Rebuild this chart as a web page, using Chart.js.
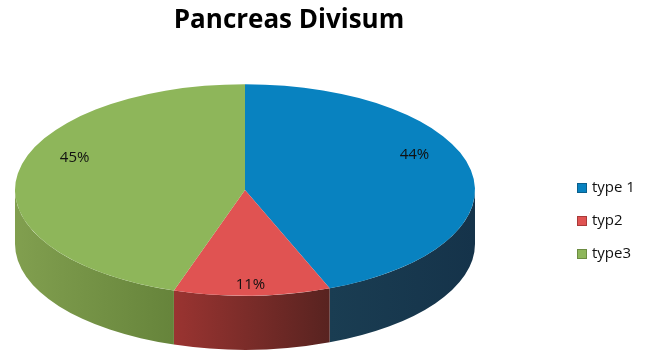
<!DOCTYPE html>
<html lang="en">
<head>
  <meta charset="utf-8">
  <title>Pancreas Divisum</title>
  <style>
    body { margin: 0; background: #fff; }
    #wrap { width: 649px; height: 356px; }
  </style>
</head>
<body>
  <div id="wrap"><canvas id="myChart"></canvas></div>

  <script src="https://cdn.jsdelivr.net/npm/chart.js@4.4.0/dist/chart.umd.min.js"></script>
  <script>
    var categories = ['type 1', 'typ2', 'type3'];
    var shares = [44, 11, 45];
    var topColors = ['#0882C0', '#E05352', '#8EB65A'];
    var edgeColors = ['#0B5F8C', '#A83A39', '#6C8C42'];
    // side wall shading, left -> right
    var sideColors = [['#1A3D52', '#15334A'], ['#9A3431', '#582320'], ['#819F4F', '#66843B']];

    var tilt = 0.46;    // vertical squash of the pie top
    var depth = 54;     // thickness of the pie

    var pie3d = {
      id: 'pie3d',
      beforeDatasetsDraw: function(chart) {
        var ctx = chart.ctx;
        var arcs = chart.getDatasetMeta(0).data;
        var cx = arcs[0].x, cy = arcs[0].y, R = arcs[0].outerRadius;
        var ry = R * tilt;

        // front rim of each slice
        arcs.forEach(function(arc, i) {
          var s = Math.max(arc.startAngle, 0);
          var e = Math.min(arc.endAngle, Math.PI);
          if (s >= e) return;
          var xl = cx + R * Math.cos(e), xr = cx + R * Math.cos(s);
          var g = ctx.createLinearGradient(xl, 0, xr, 0);
          g.addColorStop(0, sideColors[i][0]);
          g.addColorStop(1, sideColors[i][1]);
          ctx.save();
          ctx.beginPath();
          ctx.ellipse(cx, cy, R, ry, 0, s, e);
          ctx.ellipse(cx, cy + depth, R, ry, 0, e, s, true);
          ctx.closePath();
          ctx.fillStyle = g;
          ctx.fill();
          ctx.restore();
        });

        // squash the top face
        ctx.save();
        ctx.translate(0, cy);
        ctx.scale(1, tilt);
        ctx.translate(0, -cy);
      },
      afterDatasetsDraw: function(chart) {
        var ctx = chart.ctx;
        ctx.restore();

        // value labels, pushed a little to fake the perspective of the original
        var arcs = chart.getDatasetMeta(0).data;
        ctx.save();
        ctx.font = '15px "Open Sans"';
        ctx.fillStyle = '#111';
        ctx.textAlign = 'center';
        ctx.textBaseline = 'middle';
        arcs.forEach(function(arc, i) {
          var mid = (arc.startAngle + arc.endAngle) / 2;
          var r = arc.outerRadius * 0.75;
          var sin = Math.sin(mid);
          var x = arc.x + r * Math.cos(mid);
          var y = arc.y + r * tilt * sin * (sin > 0 ? 1.45 : 1) - 20;
          ctx.fillText(shares[i] + '%', x, y);
        });
        ctx.restore();
      },
      afterDraw: function(chart) {
        var ctx = chart.ctx;
        ctx.save();
        // title
        ctx.font = 'bold 26px "Open Sans"';
        ctx.fillStyle = '#000';
        ctx.textAlign = 'center';
        ctx.textBaseline = 'middle';
        ctx.fillText('Pancreas Divisum', 289, 21);

        // legend
        ctx.font = '15px "Open Sans"';
        ctx.textAlign = 'left';
        categories.forEach(function(label, i) {
          var y = 183 + i * 33;
          ctx.fillStyle = topColors[i];
          ctx.fillRect(577, y, 10, 10);
          ctx.strokeStyle = edgeColors[i];
          ctx.lineWidth = 1;
          ctx.strokeRect(577.5, y + 0.5, 9, 9);
          ctx.fillStyle = '#111';
          ctx.fillText(label, 592, y + 5);
        });
        ctx.restore();
      }
    };

    var ctx = document.getElementById('myChart').getContext('2d');
    var chart = new Chart(ctx, {
      type: 'pie',
      data: {
        labels: categories,
        datasets: [{
          data: shares,
          backgroundColor: topColors,
          borderWidth: 0,
          radius: 230
        }]
      },
      options: {
        responsive: true,
        maintainAspectRatio: false,
        animation: false,
        events: [],
        layout: { padding: { left: 15, right: 174, top: 84, bottom: 60 } },
        plugins: {
          legend: { display: false },
          title: { display: false },
          tooltip: { enabled: false }
        }
      },
      plugins: [pie3d]
    });
  </script>
</body>
</html>
